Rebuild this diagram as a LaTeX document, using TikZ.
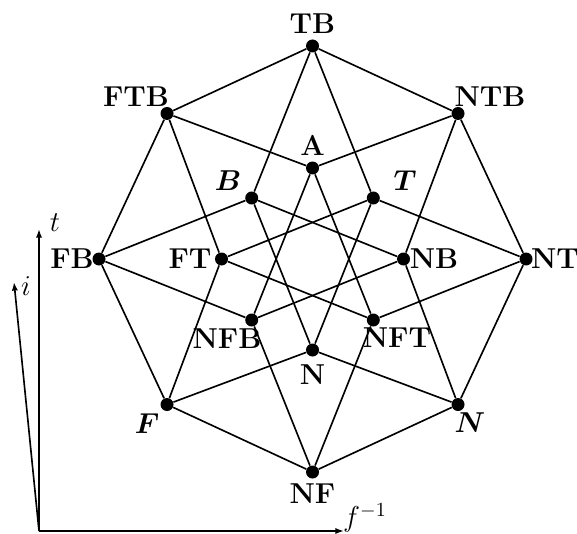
\documentclass[tikz,border=0pt]{standalone}
\usepackage{bm}
\usetikzlibrary{arrows.meta}
\begin{document}
\begin{tikzpicture}[x=0.5pt,y=-0.5pt,
  dot/.style={circle,fill=black,inner sep=0pt,minimum size=6.5pt},
  lbl/.style={font=\Large\bfseries,inner sep=0pt},
  edge/.style={line width=0.82pt},
  axis/.style={line width=0.82pt,-{Latex[length=4.3pt,width=3.1pt]}},
  axlbl/.style={font=\Large,inner sep=0pt}]
\useasboundingbox (0,0) rectangle (577,534);
% vertices
\node[dot] (TB)  at (312.5,46) {};
\node[dot] (FTB) at (167,113.5) {};
\node[dot] (NTB) at (458,113.5) {};
\node[dot] (A)   at (312.5,168) {};
\node[dot] (B)   at (251.7,198) {};
\node[dot] (T)   at (373.3,198) {};
\node[dot] (FB)  at (99,259) {};
\node[dot] (FT)  at (221.5,259) {};
\node[dot] (NB)  at (403.5,259) {};
\node[dot] (NT)  at (526,259) {};
\node[dot] (NFB) at (251.7,320) {};
\node[dot] (NFT) at (373.3,320) {};
\node[dot] (N)   at (312.5,350) {};
\node[dot] (F)   at (167,404.5) {};
\node[dot] (Ni)  at (458,404.5) {};
\node[dot] (NF)  at (312.5,472) {};
% labels
\node[lbl] (lTB)  at (312.5,24) {TB};
\node[lbl] (lFTB) at (136,97) {FTB};
\node[lbl] (lNTB) at (490,97) {NTB};
\node[lbl] (lA)   at (312.5,145) {A};
\node[lbl] (lB)   at (228,181) {$\bm{B}$};
\node[lbl] (lT)   at (405,181) {$\bm{T}$};
\node[lbl] (lFB)  at (72,259) {FB};
\node[lbl] (lFT)  at (190,259) {FT};
\node[lbl] (lNB)  at (434,259) {NB};
\node[lbl] (lNT)  at (555,259) {NT};
\node[lbl] (lNFB) at (227,339) {NFB};
\node[lbl] (lNFT) at (397,338) {NFT};
\node[lbl] (lN)   at (312.5,375) {N};
\node[lbl] (lF)   at (147,424) {$\bm{F}$};
\node[lbl] (lNi)  at (470,423) {$\bm{N}$};
\node[lbl] (lNF)  at (312.5,494) {NF};
% edges
\foreach \a/\b in {TB/FTB,TB/NTB,TB/B,TB/T,
  FTB/A,FTB/FB,FTB/FT,NTB/A,NTB/NB,NTB/NT,
  A/NFB,A/NFT,B/FB,B/NB,B/N,T/FT,T/NT,T/N,
  FB/NFB,FB/F,FT/NFT,FT/F,NB/NFB,NB/Ni,NT/NFT,NT/Ni,
  NFB/NF,NFT/NF,N/F,N/Ni,F/NF,Ni/NF}
  \draw[edge] (\a) -- (\b);
% axes
\coordinate (O) at (39,531);
\coordinate (At) at (39,229);
\coordinate (Ai) at (14,282);
\coordinate (Af) at (344,531);
\draw[axis] (O) -- (At);
\draw[axis] (O) -- (Ai);
\draw[axis] (O) -- (Af);
\node[axlbl] (lt) at (55,223) {$t$};
\node[axlbl] (li) at (26,286) {$i$};
\node[axlbl] (lf) at (365,518) {$f^{-1}$};
\end{tikzpicture}
\end{document}
